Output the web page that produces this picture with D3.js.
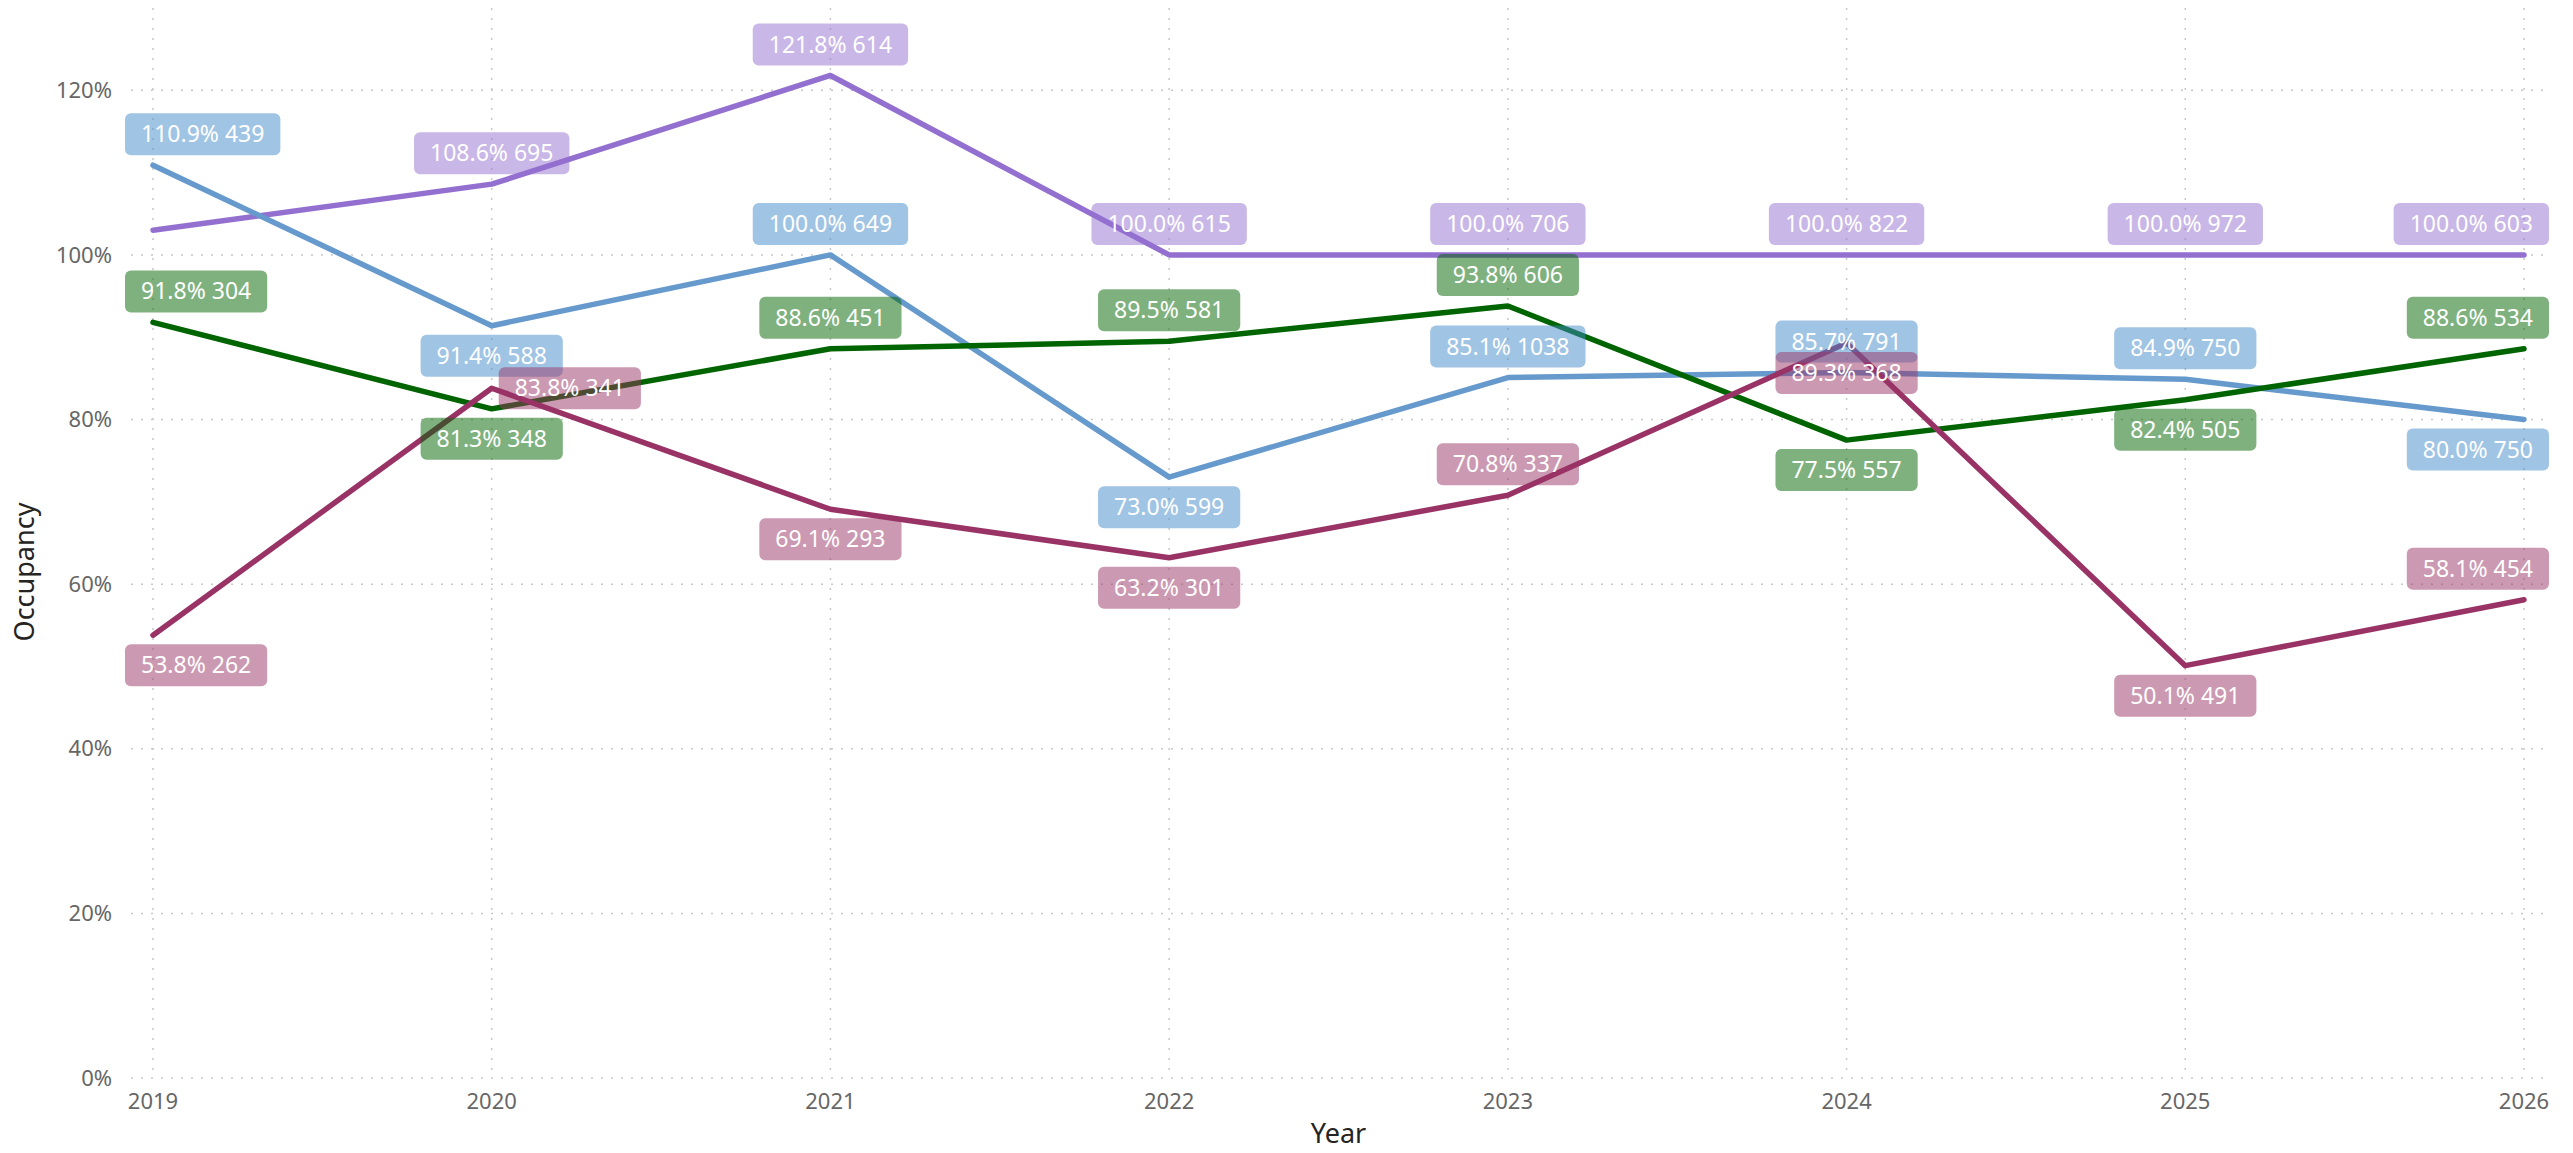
<!DOCTYPE html>
<html>

<head>
    <meta charset="utf-8">
    <title>Occupancy by Year</title>
    <style>
        body {
            margin: 0;
            background: #fff;
        }

        text {
            font-family: "Segoe UI", "Noto Sans", sans-serif;
        }

        .grid line {
            stroke: #c8c8c8;
            stroke-width: 1.5px;
            stroke-dasharray: 2, 8;
        }

        .tick-label {
            fill: #666666;
            font-size: 22px;
        }

        .axis-title {
            fill: #252423;
            font-size: 27px;
        }

        path.line {
            fill: none;
            stroke-width: 5.5px;
            stroke-linejoin: round;
            stroke-linecap: round;
        }

        .label text {
            fill: #fff;
            font-size: 23px;
        }
    </style>
</head>

<body>
    <script src="https://d3js.org/d3.v7.min.js"></script>
    <script>
        // data
        var years = [2019, 2020, 2021, 2022, 2023, 2024, 2025, 2026];
        var yTicks = [0, 20, 40, 60, 80, 100, 120];

        var blueOcc = [110.9, 91.4, 100.0, 73.0, 85.1, 85.7, 84.9, 80.0];
        var blueCount = [439, 588, 649, 599, 1038, 791, 750, 750];

        var purpleOcc = [103.0, 108.6, 121.8, 100.0, 100.0, 100.0, 100.0, 100.0];
        var purpleCount = [null, 695, 614, 615, 706, 822, 972, 603];

        var greenOcc = [91.8, 81.3, 88.6, 89.5, 93.8, 77.5, 82.4, 88.6];
        var greenCount = [304, 348, 451, 581, 606, 557, 505, 534];

        var maroonOcc = [53.8, 83.8, 69.1, 63.2, 70.8, 89.3, 50.1, 58.1];
        var maroonCount = [262, 341, 293, 301, 337, 368, 491, 454];

        // where each data label sits relative to its point
        var bluePlace = ["above", "below", "above", "below", "above", "above", "above", "below"];
        var purplePlace = [null, "above", "above", "above", "above", "above", "above", "above"];
        var greenPlace = ["above", "below", "above", "above", "above", "below", "below", "above"];
        var maroonPlace = ["below", "right", "below", "below", "above", "below", "below", "above"];

        var series = [
            { name: "purple", occ: purpleOcc, count: purpleCount, place: purplePlace, line: "#9370d0", box: "#9370d0", w: 5.5 },
            { name: "blue", occ: blueOcc, count: blueCount, place: bluePlace, line: "#6699cc", box: "#4189c9", w: 5.5 },
            { name: "green", occ: greenOcc, count: greenCount, place: greenPlace, line: "#006400", box: "#006400", w: 6 },
            { name: "maroon", occ: maroonOcc, count: maroonCount, place: maroonPlace, line: "#993366", box: "#993366", w: 5.5 }
        ];
        // labels are stacked in this order
        var labelOrder = ["blue", "purple", "green", "maroon"];

        var width = 2573,
            height = 1153;

        var x = d3.scaleLinear()
            .domain([years[0], years[years.length - 1]])
            .range([153, 2524]);

        var y = d3.scaleLinear()
            .domain([0, 130])
            .range([1078, 8]);

        var gridLeft = 131,
            gridRight = 2548;

        var svg = d3.select("body").append("svg")
            .attr("width", width)
            .attr("height", height);

        // gridlines
        var grid = svg.append("g").attr("class", "grid");
        grid.selectAll("line.h")
            .data(yTicks)
            .enter().append("line")
            .attr("class", "h")
            .attr("x1", gridLeft)
            .attr("x2", gridRight)
            .attr("y1", function(d) { return y(d); })
            .attr("y2", function(d) { return y(d); });

        grid.selectAll("line.v")
            .data(years)
            .enter().append("line")
            .attr("class", "v")
            .attr("x1", function(d) { return x(d); })
            .attr("x2", function(d) { return x(d); })
            .attr("y1", y(130))
            .attr("y2", y(0));

        // y axis tick labels
        svg.append("g").selectAll("text")
            .data(yTicks)
            .enter().append("text")
            .attr("class", "tick-label")
            .attr("x", 112)
            .attr("y", function(d) { return y(d); })
            .attr("dy", "0.35em")
            .attr("text-anchor", "end")
            .text(function(d) { return d + "%"; });

        // x axis tick labels
        svg.append("g").selectAll("text")
            .data(years)
            .enter().append("text")
            .attr("class", "tick-label")
            .attr("x", function(d) { return x(d); })
            .attr("y", 1109)
            .attr("text-anchor", "middle")
            .text(function(d) { return d; });

        // axis titles
        svg.append("text")
            .attr("class", "axis-title")
            .attr("x", (x.range()[0] + x.range()[1]) / 2)
            .attr("y", 1143)
            .attr("text-anchor", "middle")
            .text("Year");

        svg.append("text")
            .attr("class", "axis-title")
            .attr("transform", "translate(34,572) rotate(-90)")
            .attr("text-anchor", "middle")
            .text("Occupancy");

        // lines
        var line = d3.line()
            .x(function(d, i) { return x(years[i]); })
            .y(function(d) { return y(d); });

        svg.append("g").selectAll("path")
            .data(series)
            .enter().append("path")
            .attr("class", "line")
            .attr("stroke", function(d) { return d.line; })
            .attr("stroke-width", function(d) { return d.w; })
            .attr("d", function(d) { return line(d.occ); });

        // data labels
        var boxH = 42,
            gap = 10,
            padX = 16,
            minLeft = 125,
            maxRight = 2549;

        var labels = svg.append("g");

        labelOrder.forEach(function(name) {
            var s = series.find(function(d) { return d.name === name; });
            s.occ.forEach(function(v, i) {
                if (!s.place[i] || s.count[i] == null) return;
                var px = x(years[i]),
                    py = y(v);

                var g = labels.append("g").attr("class", "label");
                var rect = g.append("rect")
                    .attr("rx", 6)
                    .attr("ry", 6)
                    .attr("fill", s.box)
                    .attr("fill-opacity", 0.5);
                var t = g.append("text")
                    .attr("text-anchor", "middle")
                    .attr("dy", "0.35em")
                    .text(v.toFixed(1) + "% " + s.count[i]);

                var w = t.node().getComputedTextLength() + padX * 2;
                var cx, cy;
                if (s.place[i] === "above") {
                    cx = px;
                    cy = py - gap - boxH / 2;
                } else if (s.place[i] === "below") {
                    cx = px;
                    cy = py + gap - 1 + boxH / 2;
                } else {
                    cx = px + 7 + w / 2;
                    cy = py;
                }
                // keep the box inside the plot
                var left = Math.max(minLeft, Math.min(maxRight - w, cx - w / 2));
                rect.attr("x", left)
                    .attr("y", cy - boxH / 2)
                    .attr("width", w)
                    .attr("height", boxH);
                t.attr("x", left + w / 2)
                    .attr("y", cy);
            });
        });
    </script>
</body>

</html>
